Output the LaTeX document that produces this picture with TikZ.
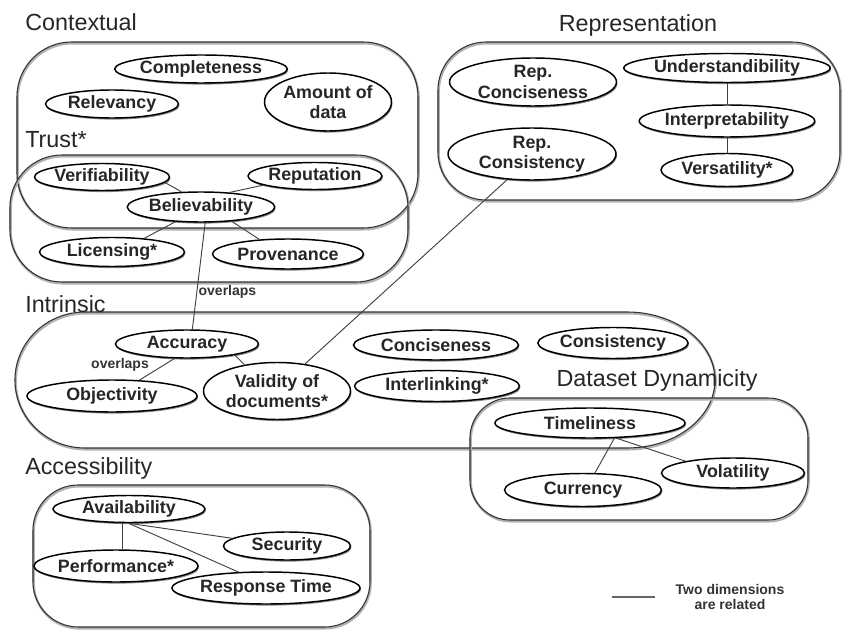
\documentclass[tikz,border=0pt]{standalone}
\usepackage{fontspec}
\setmainfont{Liberation Sans}
\usetikzlibrary{shapes.geometric,shadows}
\begin{document}
\begin{tikzpicture}[x=0.75pt,y=0.75pt,
  el/.style 2 args={ellipse, draw=black, line width=1.1pt, fill=white, inner sep=0pt,
    minimum width=#1*0.75pt, minimum height=#2*0.75pt, align=center,
    font=\bfseries\fontsize{13.4}{15.2}\selectfont, text=black!85,
    drop shadow={shadow xshift=0.7pt, shadow yshift=-1.2pt, fill=black!60, opacity=0.8}},
  ttl/.style={inner sep=0pt, font=\fontsize{17.5}{20}\selectfont, text=black!85},
  lbl/.style={inner sep=1pt, font=\bfseries\fontsize{10.5}{12}\selectfont, text=black!80},
  box/.style={draw=black!80, line width=0.8pt,
    preaction={draw=black!30, line width=1.8pt, transform canvas={xshift=0.5pt,yshift=-1pt}}},
  rel/.style={draw=black!75, line width=0.7pt}
]
\useasboundingbox (0,0) rectangle (843,-631);

% group boxes
\draw[box, rounded corners=41pt] (17,-42) rectangle (418,-228);
\draw[box, rounded corners=39pt] (10,-155) rectangle (408,-282);
\draw[box, rounded corners=36pt] (438,-42) rectangle (840,-200);
\draw[box] (85,-312) -- (627,-312) arc[start angle=90, end angle=-90, x radius=88, y radius=68]
  -- (85,-448) arc[start angle=270, end angle=90, x radius=70, y radius=68] -- cycle;
\draw[box, rounded corners=30pt] (470,-398) rectangle (808,-520);
\draw[box, rounded corners=34pt] (33,-485) rectangle (370,-627);

% titles
\node[ttl, anchor=west] (tContextual) at (25,-22) {Contextual};
\node[ttl, anchor=west] (tTrust) at (25,-140) {Trust*};
\node[ttl] (tRepresentation) at (638,-25) {Representation};
\node[ttl, anchor=west] (tIntrinsic) at (25,-304) {Intrinsic};
\node[ttl] (tDynamicity) at (657,-380) {Dataset Dynamicity};
\node[ttl, anchor=west] (tAccessibility) at (25,-468) {Accessibility};

% contextual
\node[el={172}{28}] (compl) at (201,-69) {Completeness};
\node[el={133}{28}] (relev) at (112,-104) {Relevancy};
\node[el={127}{58}] (amount) at (328,-102) {Amount of\\data};
% trust
\node[el={135}{27}] (verif) at (102,-177) {Verifiability};
\node[el={134}{27}] (reput) at (315,-176) {Reputation};
\node[el={143}{30}] (believ) at (201,-207) {Believability};
\node[el={145}{29}] (licen) at (112,-252) {Licensing*};
\node[el={151}{30}] (prov) at (288,-254) {Provenance};
% representation
\node[el={167}{48}] (repconc) at (533,-82) {Rep.\\Conciseness};
\node[el={200}{29}] (under) at (727,-68) {Understandibility};
\node[el={170}{32}] (interp) at (727,-121) {Interpretability};
\node[el={132}{33}] (versat) at (727,-170) {Versatility*};
\node[el={168}{52}] (repcons) at (532,-154) {Rep.\\Consistency};
% intrinsic
\node[el={143}{28}] (accur) at (187,-344) {Accuracy};
\node[el={170}{32}] (object) at (112,-396) {Objectivity};
\node[el={147}{57}] (valid) at (277,-391) {Validity of\\documents*};
\node[el={165}{30}] (concis) at (436,-345) {Conciseness};
\node[el={165}{31}] (interl) at (437,-386) {Interlinking*};
\node[el={150}{31}] (consist) at (613,-343) {Consistency};
% dataset dynamicity
\node[el={190}{30}] (timel) at (590,-423) {Timeliness};
\node[el={157}{33}] (curr) at (583,-490) {Currency};
\node[el={143}{30}] (volat) at (733,-473) {Volatility};
% accessibility
\node[el={152}{27}] (avail) at (129,-509) {Availability};
\node[el={127}{28}] (secur) at (287,-546) {Security};
\node[el={158}{32}] (perf) at (116,-566) {Performance*};
\node[el={188}{32}] (resp) at (266,-588) {Response Time};

% relations
\draw[rel] (verif.-5) -- (believ.142);
\draw[rel] (reput.190) -- (believ.27);
\draw[rel] (believ.-150) -- (licen.23);
\draw[rel] (believ.-25) -- (prov.153);
\draw[rel] (believ.-75) -- node[lbl, pos=0.65, anchor=west] (ov1) {overlaps} (accur.70);
\draw[rel] (accur.-131) -- (object.30);
\node[lbl] (ov2) at (120,-365) {overlaps};
\draw[rel] (accur.-13) -- (valid.141);
\draw[rel] (repcons.-134) -- (valid.44);
\draw[rel] (under.south) -- (interp.north);
\draw[rel] (interp.south) -- (versat.north);
\draw[rel] (timel.-32) -- (curr.55);
\draw[rel] (timel.-30) -- (volat.166);
\draw[rel] (avail.-115) -- (avail.-115 |- perf.north);
\draw[rel] (avail.-92) -- (secur.172);
\draw[rel] (avail.-92) -- (resp.150);

% legend
\coordinate (lg1) at (612,-597);
\coordinate (lg2) at (655,-597);
\draw[draw=black!60, line width=0.8pt] (lg1) -- (lg2);
\node[lbl, align=center, font=\bfseries\fontsize{10.5}{11.5}\selectfont] (legend) at (730,-597) {Two dimensions\\are related};
\end{tikzpicture}
\end{document}
